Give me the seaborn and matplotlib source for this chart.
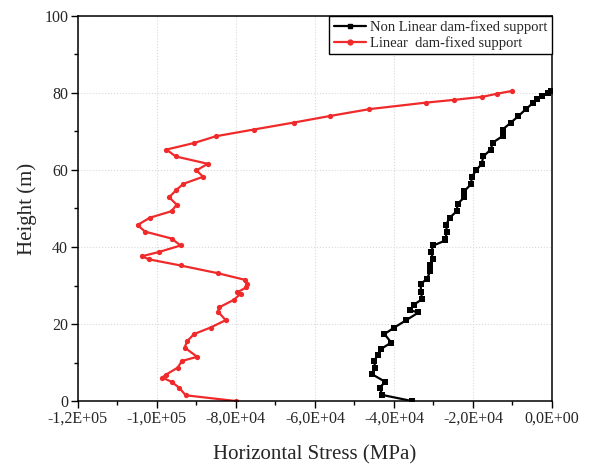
import matplotlib
matplotlib.use("Agg")
import matplotlib.pyplot as plt
import seaborn as sns
import pandas as pd
from matplotlib.ticker import MultipleLocator, FuncFormatter
from matplotlib.lines import Line2D

# Linear dam-fixed support (red)
lin_stress = [-10.2e3, -13.9e3, -17.6e3, -24.8e3, -31.8e3, -46.2e3, -56.3e3, -65.4e3,
              -75.5e3, -85.1e3, -90.6e3, -97.6e3, -95.2e3, -87.1e3, -90.0e3, -88.3e3,
              -93.3e3, -95.2e3, -96.9e3, -95.0e3, -96.3e3, -101.8e3, -104.9e3, -103.0e3,
              -96.3e3, -94.0e3, -99.5e3, -103.8e3, -102.0e3, -94.0e3, -84.6e3, -77.8e3,
              -77.1e3, -77.4e3, -79.7e3, -78.8e3, -80.5e3, -84.3e3, -84.5e3, -82.6e3,
              -86.4e3, -90.6e3, -92.3e3, -93.0e3, -89.8e3, -93.7e3, -94.7e3, -97.8e3,
              -98.6e3, -96.3e3, -94.4e3, -92.7e3, -79.9e3]
lin_height = [80.5, 79.8, 79.0, 78.2, 77.5, 75.8, 74.0, 72.3,
              70.5, 68.75, 67.0, 65.3, 63.5, 61.6, 59.9, 58.25,
              56.4, 54.7, 52.9, 51.0, 49.3, 47.6, 45.7, 44.0,
              42.2, 40.4, 38.7, 37.6, 36.8, 35.2, 33.2, 31.5,
              30.4, 29.5, 28.2, 27.9, 26.3, 24.3, 23.2, 21.0,
              19.1, 17.4, 15.6, 13.9, 11.5, 10.4, 8.7, 6.8,
              6.1, 5.0, 3.5, 1.5, 0.0]

# Non Linear dam-fixed support (black)
nl_stress = [-0.3e3, -0.9e3, -2.6e3, -3.9e3, -4.7e3, -6.6e3, -8.5e3, -10.4e3, -12.5e3,
             -12.5e3, -15.0e3, -15.5e3, -17.4e3, -17.8e3, -19.2e3, -20.3e3, -20.5e3,
             -22.2e3, -22.2e3, -23.9e3, -24.1e3, -25.9e3, -26.8e3, -26.6e3, -27.0e3,
             -27.0e3, -30.0e3, -30.7e3, -30.0e3, -31.0e3, -30.8e3, -31.7e3, -33.2e3,
             -33.2e3, -32.8e3, -35.0e3, -36.0e3, -33.8e3, -36.9e3, -39.9e3, -42.4e3,
             -40.7e3, -43.3e3, -44.0e3, -45.1e3, -44.7e3, -45.6e3, -42.2e3, -43.6e3,
             -43.0e3, -35.4e3]
nl_height = [80.6, 80.1, 79.3, 78.3, 77.5, 75.8, 74.0, 72.3, 70.5,
             68.8, 67.1, 65.3, 63.5, 61.6, 59.9, 58.2, 56.3,
             54.5, 52.9, 51.2, 49.3, 47.6, 45.8, 43.9, 42.1,
             41.7, 40.4, 38.6, 36.9, 35.2, 33.7, 31.7, 30.4,
             28.2, 26.5, 25.0, 23.6, 23.0, 21.0, 19.1, 17.4,
             15.2, 13.5, 12.0, 10.4, 8.7, 7.0, 5.0, 3.5,
             1.6, 0.0]

x_ticks = [-1.2e5, -1.0e5, -8.0e4, -6.0e4, -4.0e4, -2.0e4, 0.0]
y_ticks = [0, 20, 40, 60, 80, 100]

sns.set_style("white")
plt.rcParams['font.family'] = ['Liberation Serif', 'DejaVu Serif']

df_nl = pd.DataFrame({"stress": nl_stress, "height": nl_height})
df_lin = pd.DataFrame({"stress": lin_stress, "height": lin_height})

fig = plt.figure(figsize=(5.9, 4.68), dpi=100)
ax = fig.add_axes([0.132, 0.143, 0.8036, 0.823])

sns.lineplot(data=df_nl, x="stress", y="height", sort=False, estimator=None,
             color="black", lw=1.6, marker="s", markersize=3.8, markeredgewidth=0,
             ax=ax)
sns.lineplot(data=df_lin, x="stress", y="height", sort=False, estimator=None,
             color="#f02a2a", lw=1.6, marker="o", markersize=3.8, markeredgewidth=0,
             ax=ax)

ax.set_xlim(-1.2e5, 0)
ax.set_ylim(0, 100)
ax.set_xticks(x_ticks)
ax.set_yticks(y_ticks)
ax.xaxis.set_minor_locator(MultipleLocator(1e4))
ax.yaxis.set_minor_locator(MultipleLocator(10))
ax.xaxis.set_major_formatter(FuncFormatter(lambda v, p: f"{v:.1E}".replace(".", ",")))
ax.tick_params(axis="both", which="major", direction="out", length=5, width=1,
               labelsize=11.5, color="black", bottom=True, left=True, pad=2)
ax.tick_params(axis="both", which="minor", direction="out", length=3, width=1,
               color="black", bottom=True, left=True)
ax.grid(True, which="major", linestyle=":", color="#d9d9d9", linewidth=0.8)
for s in ax.spines.values():
    s.set_color("black")
    s.set_linewidth(1.1)

ax.set_xlabel("Horizontal Stress (MPa)", fontsize=15, labelpad=13)
ax.set_ylabel("Height (m)", fontsize=15, labelpad=5)

handles = [
    Line2D([], [], color="black", lw=1.6, marker="s", markersize=3.5),
    Line2D([], [], color="#f02a2a", lw=1.6, marker="o", markersize=3.5),
]
leg = ax.legend(handles, ["Non Linear dam-fixed support", "Linear  dam-fixed support"],
                loc="upper right", borderaxespad=0, fontsize=10.5, frameon=True,
                fancybox=False, edgecolor="black", framealpha=1, handlelength=2.2,
                handletextpad=0.3, borderpad=0.3, labelspacing=0.15)
leg.get_frame().set_linewidth(1.0)

fig.savefig("out.png", dpi=100)
